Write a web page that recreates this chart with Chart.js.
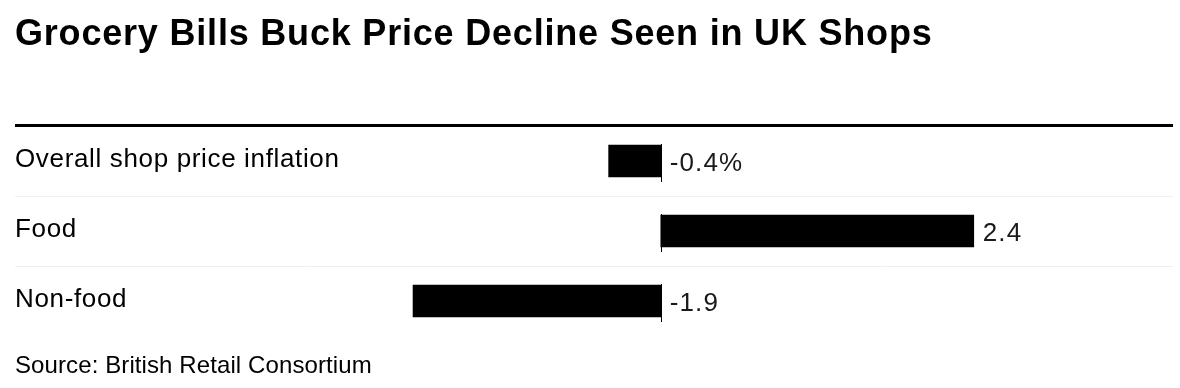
<!DOCTYPE html>
<html>
<head>
<meta charset="utf-8">
<script src="https://cdn.jsdelivr.net/npm/chart.js"></script>
<style>
  body { margin: 0; background: #fff; font-family: "Liberation Sans", Arial, sans-serif; }
  #wrap { position: relative; width: 1180px; height: 388px; overflow: hidden; }
  #titel { position: absolute; left: 15px; top: 15px; font-size: 36px; line-height: 1; font-weight: bold; letter-spacing: 0.8px; color: #000; white-space: nowrap; }
  #linie { position: absolute; left: 15px; top: 124px; width: 1158px; height: 3px; background: #000; }
  #quelle { position: absolute; left: 15px; top: 353px; font-size: 24px; line-height: 1; letter-spacing: 0.1px; color: #000; white-space: nowrap; }
  canvas { position: absolute; left: 0; top: 0; }
</style>
</head>
<body>
<div id="wrap">
  <canvas id="preisChart" width="1180" height="388"></canvas>
  <div id="titel">Grocery Bills Buck Price Decline Seen in UK Shops</div>
  <div id="linie"></div>
  <div id="quelle">Source: British Retail Consortium</div>
</div>
<script>
// Daten aus dem Bild
const kategorien = ['Overall shop price inflation', 'Food', 'Non-food'];
const werte = [-0.4, 2.4, -1.9];
const wertLabels = ['-0.4%', '2.4', '-1.9'];

const schrift = '26px "Liberation Sans", Arial, sans-serif';

// Trennlinien zwischen den Zeilen + Kategorienamen links
const zeilenPlugin = {
    id: 'zeilen',
    beforeDatasetsDraw(chart) {
        const ctx = chart.ctx;
        const y = chart.scales.y;
        ctx.save();
        ctx.strokeStyle = '#f0f0f0';
        ctx.lineWidth = 1;
        for (let i = 0; i < kategorien.length - 1; i++) {
            const py = Math.round((y.getPixelForValue(i) + y.getPixelForValue(i + 1)) / 2) + 0.5;
            ctx.beginPath();
            ctx.moveTo(15, py);
            ctx.lineTo(1173, py);
            ctx.stroke();
        }
        ctx.font = schrift;
        ctx.letterSpacing = '0.65px';
        ctx.fillStyle = '#000';
        ctx.textBaseline = 'alphabetic';
        kategorien.forEach((k, i) => {
            ctx.fillText(k, 15, y.getPixelForValue(i) + 6);
        });
        ctx.restore();
    }
};

// Nulllinie und Wertbeschriftung
const wertePlugin = {
    id: 'werte',
    afterDatasetsDraw(chart) {
        const ctx = chart.ctx;
        const x = chart.scales.x;
        const y = chart.scales.y;
        const nullX = Math.round(x.getPixelForValue(0)) + 0.5;
        ctx.save();
        ctx.strokeStyle = '#000';
        ctx.lineWidth = 1;
        ctx.font = schrift;
        ctx.letterSpacing = '1.1px';
        ctx.fillStyle = '#1a1a1a';
        ctx.textBaseline = 'alphabetic';
        werte.forEach((w, i) => {
            const py = y.getPixelForValue(i);
            ctx.beginPath();
            ctx.moveTo(nullX, py - 17);
            ctx.lineTo(nullX, py + 21);
            ctx.stroke();

            const ende = Math.max(x.getPixelForValue(w), x.getPixelForValue(0));
            ctx.fillText(wertLabels[i], ende + 9, py + 10);
        });
        ctx.restore();
    }
};

const ctx = document.getElementById('preisChart').getContext('2d');
new Chart(ctx, {
    type: 'bar',
    data: {
        labels: kategorien,
        datasets: [{
            data: werte,
            backgroundColor: '#000',
            borderWidth: 0,
            barThickness: 32
        }]
    },
    options: {
        indexAxis: 'y',
        responsive: false,
        animation: false,
        devicePixelRatio: 1,
        layout: { padding: { top: 126, bottom: 52, left: 400, right: 128 } },
        plugins: {
            legend: { display: false },
            tooltip: { enabled: false }
        },
        scales: {
            x: {
                display: false,
                min: -2,
                max: 3
            },
            y: {
                display: false
            }
        }
    },
    plugins: [zeilenPlugin, wertePlugin]
});
</script>
</body>
</html>
